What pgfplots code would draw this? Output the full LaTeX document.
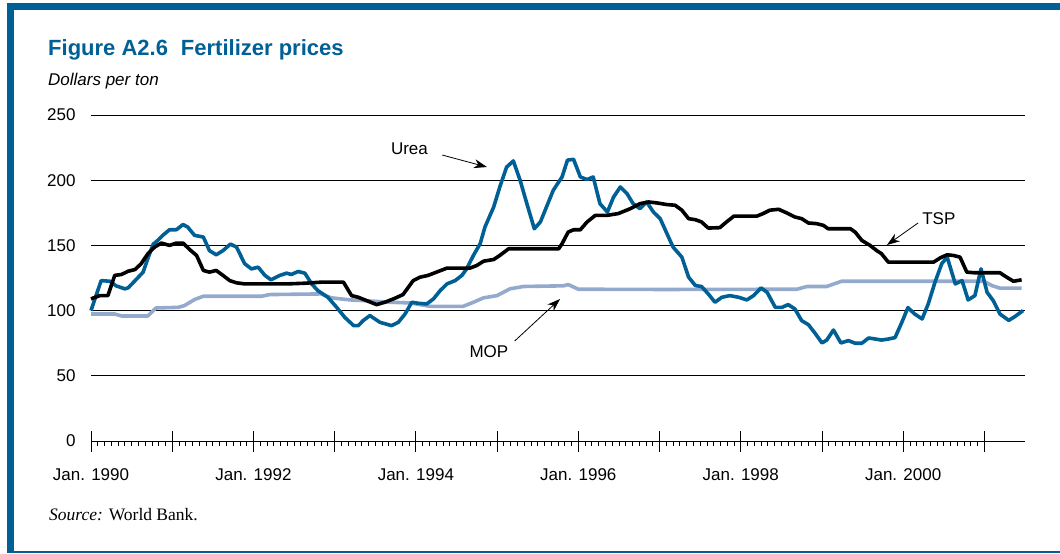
\documentclass[border=0pt]{standalone}
\usepackage{pgfplots}
\pgfplotsset{compat=1.18}
\usepackage{fontspec}
\setmainfont{Liberation Sans}
\newfontfamily\serif{Liberation Serif}
\usetikzlibrary{arrows.meta}

\definecolor{wbblue}{RGB}{0,96,150}
\definecolor{mopblue}{RGB}{148,170,204}

% months since Jan. 1990, dollars per ton
\pgfplotstableread{
m v
0 100
1.5 123
2.8 122.5
3.7 119
5.0 116.7
5.5 117.5
6.7 124
7.7 129.5
8.4 140
9.2 151
9.9 154
10.6 157.7
11.6 162
12.6 162
13.6 166
14.3 164
15.3 157.7
16.6 156.4
17.5 146
18.5 142.8
19.5 146
20.6 151
21.5 148.7
22.7 136
23.7 132
24.7 133.3
25.7 127
26.6 123.6
27.9 127
28.9 128.7
29.6 127.7
30.6 130
31.6 128.7
32.6 120.5
33.5 115.4
35.0 110.2
36.3 102.5
37.5 94.8
38.8 88.5
39.5 88.5
40.2 92.3
41.2 96.2
42.7 91
44.4 88.5
45.4 91
46.4 97.4
47.4 106.4
48.4 105.6
49.6 105.1
50.6 109
51.6 115.4
52.6 120.5
53.8 123
54.8 127
55.5 132
56.5 142.3
57.5 151.3
58.2 164
59.5 179.5
60.4 194.8
61.4 210
62.4 214.8
63.4 200
64.4 182
65.5 162.8
66.4 168
67.3 179.5
68.3 192.3
69.6 202.5
70.4 215.4
71.3 216
72.3 202.5
73.3 200.5
74.2 202.5
75.2 182
76.3 175.6
77.2 187
78.2 194.8
79.2 189.7
80.1 182
81.1 178.2
82.1 183.3
83.1 175.6
84.1 170.5
85.1 159
86.0 148.7
87.3 141
88.3 125.6
89.3 119.2
90.2 118.5
91.2 112.8
92.2 106.4
93.2 110.2
94.4 111.5
95.7 110.2
96.9 108.2
97.9 111.5
99.0 117.4
99.9 114
101.1 102.5
102.1 102.5
103.0 104.6
104.0 101.3
105.0 92.3
106.0 89.2
107.0 82.5
108.0 75.2
108.7 77.4
109.7 85.1
110.8 75.2
111.9 77
112.9 75
113.9 75
114.9 79
115.9 78.2
116.8 77.4
117.8 78.2
118.8 79.3
119.8 91
120.7 102.3
121.7 97.4
122.8 93.6
123.7 105.1
124.7 121.8
125.7 136
126.5 141
127.7 120.5
128.7 123
129.6 108.2
130.6 111.5
131.5 132
132.4 114
133.3 107.7
134.3 97.4
135.6 92.5
136.5 95.4
137.7 100
}\urea

\pgfplotstableread{
m v
0 109
1.3 111.5
2.5 111.5
3.5 127
4.5 127.7
5.5 130.2
6.5 131.5
7.4 135.9
8.4 143.6
9.4 148.7
10.4 151.8
11.6 150
12.6 151.8
13.6 151.8
14.6 146.7
15.6 142.3
16.6 130.8
17.5 129.5
18.5 130.8
19.5 127
20.5 123
21.5 121.3
22.7 120.5
29.1 120.5
31.6 121
34.0 121.8
37.3 121.8
38.5 111.5
39.5 110.2
40.7 107.7
42.2 104.6
43.4 106.4
44.7 109
46.1 112.3
46.9 118
47.6 123
48.6 125.6
49.8 127
51.3 130
52.6 132.6
56.0 132.6
57.0 134.6
58.0 137.9
59.5 139.2
60.4 142.3
61.7 147.4
69.1 147.4
69.6 151.3
70.5 160.2
71.3 162
72.3 162
73.3 168
74.5 173
76.2 173
77.9 174.4
79.7 178.2
81.1 182
82.4 183.3
83.6 182.6
85.1 181.3
86.3 180.8
87.3 177
88.3 170.5
89.3 169.7
90.2 168
91.2 163.3
92.9 163.6
93.9 168
95.0 172.5
98.4 172.5
99.3 174.4
100.3 177
101.6 177.7
102.8 174.9
104.0 171.8
105.0 170.5
106.0 167.2
107.2 166.7
108.2 165.4
108.9 162.8
112.2 162.8
112.9 160.2
113.9 153.8
115.1 150
116.1 146
116.8 143.6
117.8 137.2
124.5 137.2
125.5 140.5
126.5 142.8
127.4 142.3
128.4 141
129.4 129.5
130.6 129
134.3 129
135.3 125.6
136.3 122.5
137.5 123.6
}\tsp

\pgfplotstableread{
m v
0 97.4
3.5 97.4
4.5 95.9
8.4 95.9
9.6 102
12.9 102.5
13.8 103.8
15.3 108.5
16.6 111
25.2 111
26.4 112.3
34.0 112.8
35.5 109.8
38.3 108.2
40.2 107.7
44.2 106.4
47.1 105.9
50.1 103.3
55.0 103.3
56.5 106.4
58.0 109.8
60.0 111.5
61.9 116.7
63.9 118.5
69.8 119
70.5 120
72.0 116.4
84.6 116.2
104.3 116.4
105.8 118.5
108.7 118.5
110.9 122.5
131.9 122.5
133.1 119.2
134.3 117.2
137.5 117.2
}\mop

\begin{document}
\begin{tikzpicture}
\path[use as bounding box] (0,0) rectangle (1060pt,-554pt);
% frame
\fill[wbblue] (7pt,-3pt) rectangle (1060pt,-10pt);
\fill[wbblue] (7pt,-3pt) rectangle (14pt,-553pt);
\fill[wbblue] (7pt,-551pt) rectangle (1060pt,-553pt);

\node[anchor=base west, inner sep=0, text=wbblue, font=\fontsize{22}{26}\selectfont\bfseries]
  at (48pt,-55pt) {Figure A2.6\hspace{13pt}Fertilizer prices};
\node[anchor=base west, inner sep=0, font=\fontsize{17}{20}\selectfont\itshape]
  at (48pt,-85pt) {Dollars per ton};
\node[anchor=base west, inner sep=0, font=\fontsize{17.5}{20}\selectfont\serif]
  at (49pt,-520pt) {\textit{Source:} World Bank.};

\begin{axis}[
    scale only axis,
    width=934pt, height=326pt,
    at={(91pt,-441pt)}, anchor=south west,
    xmin=0, xmax=138,
    ymin=0, ymax=250,
    axis x line*=bottom,
    axis y line*=left,
    x axis line style={-, line width=0.9pt},
    y axis line style={draw=none},
    ytick={0,50,...,250},
    ymajorgrids,
    grid style={black, line width=0.9pt},
    ytick style={draw=none},
    xtick={0,12,...,132},
    xticklabels={Jan. 1990,,Jan. 1992,,Jan. 1994,,Jan. 1996,,Jan. 1998,,Jan. 2000,},
    minor x tick num=11,
    tick align=outside,
    major tick length=11pt,
    minor tick length=5pt,
    xtick style={black, line width=0.9pt},
    minor x tick style={line width=0.8pt},
    extra x ticks={0,12,...,132},
    extra x tick labels={},
    extra x tick style={tick align=inside, major tick length=10pt},
    tick label style={font=\fontsize{17}{20}\selectfont},
    /pgf/number format/assume math mode=true,
    xticklabel style={yshift=-13pt},
    yticklabel style={xshift=-1pt},
    clip=false,
]
\addplot[mopblue, line width=3.6pt, line join=round] table[x=m, y=v] {\mop};
\addplot[wbblue, line width=3.6pt, line join=round] table[x=m, y=v] {\urea};
\addplot[black, line width=3.6pt, line join=round] table[x=m, y=v] {\tsp};

\node[anchor=west, inner sep=0, font=\fontsize{17}{20}\selectfont] at (axis cs:44.3,223.9) {Urea};
\draw[line width=0.8pt, -{Stealth[length=13pt, width=9pt]}] (axis cs:51.9,219.3) -- (axis cs:58.5,210.1);
\node[anchor=west, inner sep=0, font=\fontsize{17}{20}\selectfont] at (axis cs:122.8,170.6) {TSP};
\draw[line width=0.8pt, -{Stealth[length=13pt, width=9pt]}] (axis cs:122.2,167.2) -- (axis cs:117.6,150.3);
\node[anchor=west, inner sep=0, font=\fontsize{17}{20}\selectfont] at (axis cs:55.9,68.8) {MOP};
\draw[line width=0.8pt, -{Stealth[length=13pt, width=9pt]}] (axis cs:62.6,76.7) -- (axis cs:69.3,108.9);
\end{axis}
\end{tikzpicture}
\end{document}
